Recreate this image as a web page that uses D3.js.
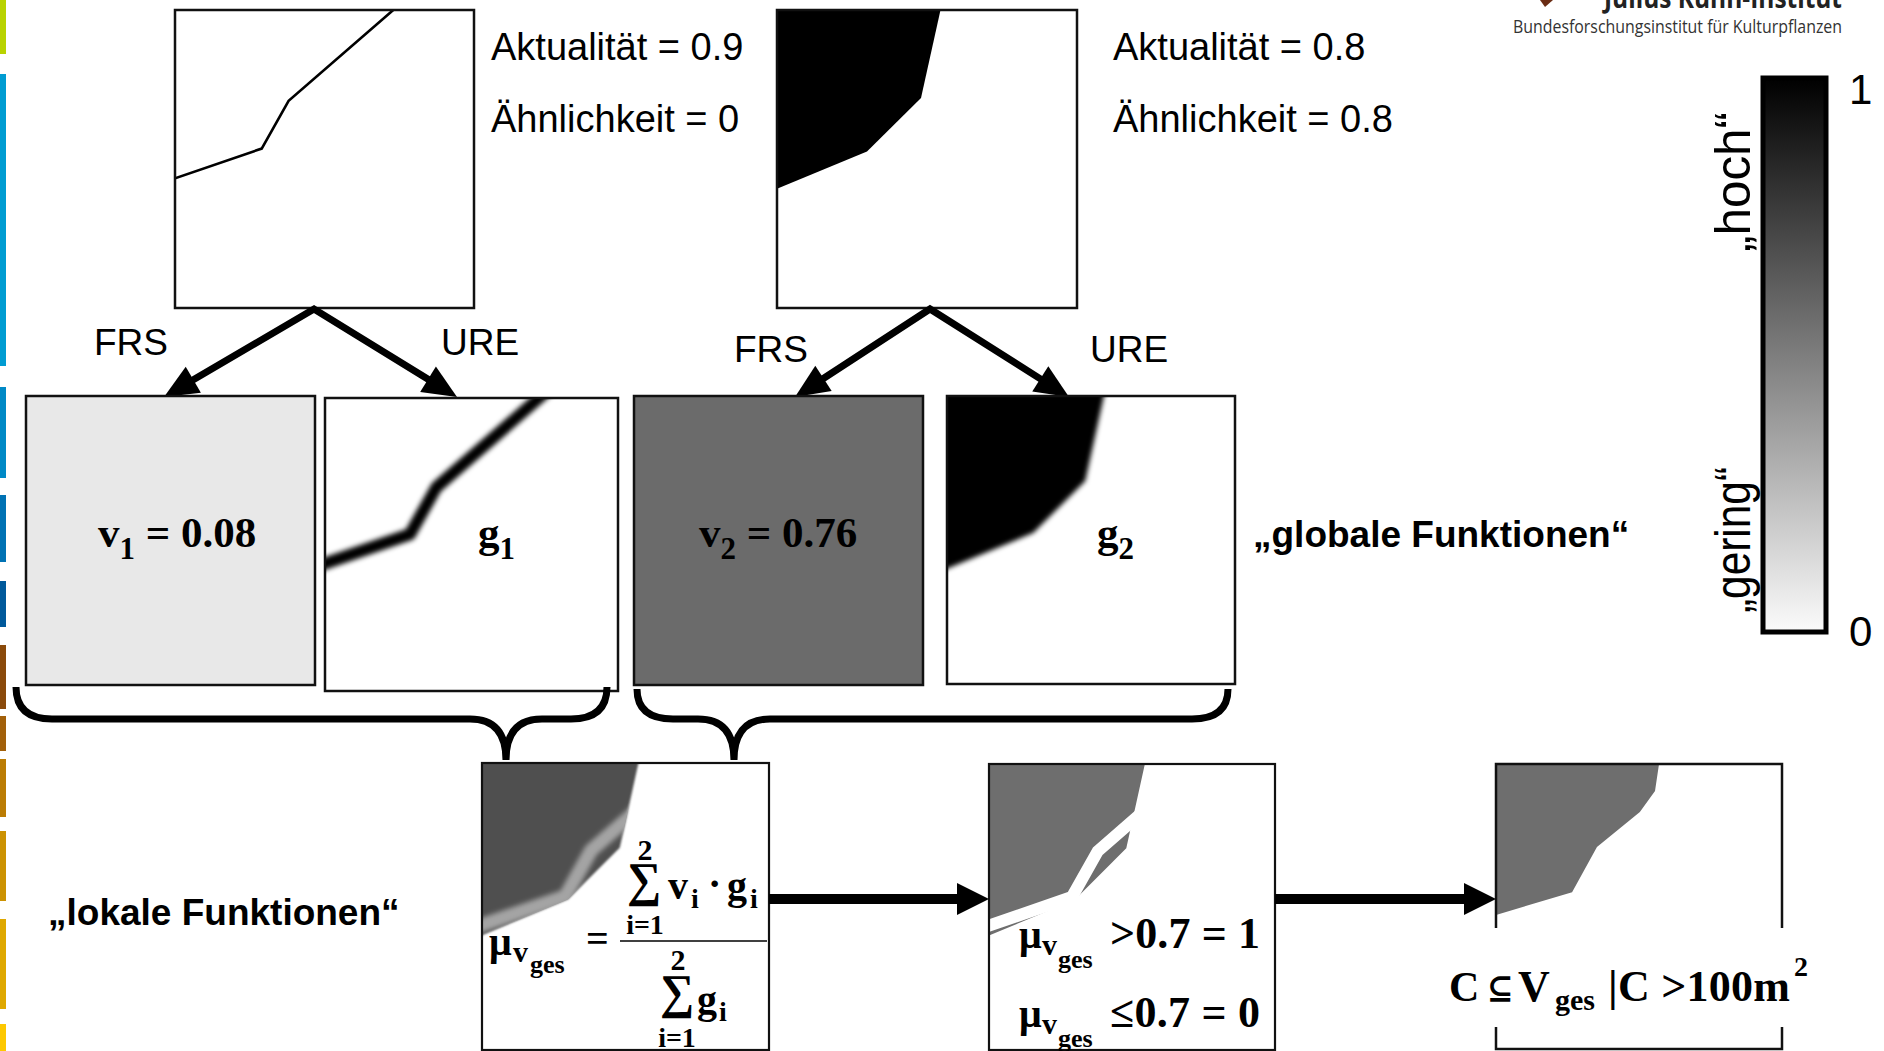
<!DOCTYPE html>
<html>
<head>
<meta charset="utf-8">
<script src="https://cdn.jsdelivr.net/npm/d3@7"></script>
<style>
  body { margin: 0; background: #fff; }
  svg { display: block; }
  .sans { font-family: "Liberation Sans", Arial, sans-serif; }
  .serif { font-family: "Liberation Serif", "Times New Roman", "DejaVu Serif", serif; font-weight: bold; }
</style>
</head>
<body>
<svg id="chart" width="1884" height="1051"></svg>
<script>
// ---- data ----
// shape of the road line (g1), normalised to its panel (0..1), left edge -> top edge
var lineG1 = [[0.0, 0.565], [0.29, 0.465], [0.38, 0.305], [0.73, 0.0]];
// edge of the black field (g2), left edge -> top edge
var edgeG2 = [[0.0, 0.6], [0.3, 0.475], [0.48, 0.295], [0.545, 0.0]];
// edge of the remaining area after the size filter
var edgeFinal = [[0.0, 0.528], [0.266, 0.448], [0.353, 0.29], [0.503, 0.168], [0.556, 0.094], [0.57, 0.0]];

var actuality = [0.9, 0.8];
var similarity = [0, 0.8];
var weights = [0.08, 0.76];
var methods = ["FRS", "URE"];
var scaleTicks = [0, 1];
var scaleLabels = ["\u201egering\u201c", "\u201ehoch\u201c"];

// left decoration stripe
var stripeBreaks = [[0, 54], [74, 366], [387, 478], [495, 562], [581, 627], [645, 709], [716, 751], [759, 817], [831, 901], [919, 1009], [1024, 1051]];
var stripeColors = ["#b9d300", "#009cd2", "#0089c6", "#0072b4", "#00599b", "#8a4a0b", "#a2600a", "#bb7c04", "#cc9202", "#dfa800", "#fdc800"];

var svg = d3.select("#chart");
var defs = svg.append("defs");

defs.append("filter").attr("id", "blur")
    .attr("x", "-20%").attr("y", "-20%").attr("width", "140%").attr("height", "140%")
  .append("feGaussianBlur").attr("stdDeviation", 2.6);
defs.append("filter").attr("id", "soft")
    .attr("x", "-20%").attr("y", "-20%").attr("width", "140%").attr("height", "140%")
  .append("feGaussianBlur").attr("stdDeviation", 0.8);

var grad = defs.append("linearGradient").attr("id", "greys")
    .attr("x1", 0).attr("y1", 1).attr("x2", 0).attr("y2", 0);
grad.append("stop").attr("offset", "0%").attr("stop-color", "#fbfbfb");
grad.append("stop").attr("offset", "100%").attr("stop-color", "#000");

// stripe
svg.append("g").selectAll("rect")
  .data(stripeBreaks)
  .enter().append("rect")
    .attr("x", 0).attr("width", 6)
    .attr("y", function(d) { return d[0]; })
    .attr("height", function(d) { return d[1] - d[0]; })
    .attr("fill", function(d, i) { return stripeColors[i]; });

// panel = a box with its own scales
var clipId = 0;
function panel(x0, y0, w, h) {
    var p = {
        x: d3.scaleLinear().domain([0, 1]).range([x0, x0 + w]),
        y: d3.scaleLinear().domain([0, 1]).range([y0, y0 + h]),
        x0: x0, y0: y0, w: w, h: h
    };
    p.id = "clip" + (clipId++);
    defs.append("clipPath").attr("id", p.id)
      .append("rect").attr("x", x0).attr("y", y0).attr("width", w).attr("height", h);
    p.g = svg.append("g");
    p.inner = p.g.append("g").attr("clip-path", "url(#" + p.id + ")");
    return p;
}

function frame(p, fill, sw) {
    p.inner.insert("rect", ":first-child")
        .attr("x", p.x0).attr("y", p.y0).attr("width", p.w).attr("height", p.h)
        .attr("fill", fill || "#fff");
    p.g.append("rect")
        .attr("x", p.x0).attr("y", p.y0).attr("width", p.w).attr("height", p.h)
        .attr("fill", "none").attr("stroke", "#111").attr("stroke-width", sw || 2.5);
}

// extend a polyline a bit beyond both ends so blur does not fade at the frame
function extend(pts) {
    var a = pts[0], b = pts[1], c = pts[pts.length - 2], d = pts[pts.length - 1];
    var s = 0.08, l1 = Math.hypot(b[0] - a[0], b[1] - a[1]), l2 = Math.hypot(d[0] - c[0], d[1] - c[1]);
    return [[a[0] - (b[0] - a[0]) * s / l1, a[1] - (b[1] - a[1]) * s / l1]]
        .concat(pts)
        .concat([[d[0] + (d[0] - c[0]) * s / l2, d[1] + (d[1] - c[1]) * s / l2]]);
}
function field(edge) {
    return extend(edge).concat([[-0.2, -0.2]]);
}
function linePath(p) {
    return d3.line().x(function(d) { return p.x(d[0]); }).y(function(d) { return p.y(d[1]); });
}

// ---- top row: input data sets ----
var pA = panel(175, 10, 299, 298);
frame(pA);
pA.inner.append("path").attr("d", linePath(pA)(extend(lineG1)))
    .attr("fill", "none").attr("stroke", "#000").attr("stroke-width", 2.6);

var pB = panel(777, 10, 300, 298);
frame(pB);
pB.inner.append("path").attr("d", linePath(pB)(field(edgeG2)) + "Z")
    .attr("fill", "#000");

var infoX = [491, 1113];
actuality.forEach(function(a, i) {
    svg.append("text").attr("class", "sans").attr("x", infoX[i]).attr("y", 60)
        .attr("font-size", 38).text("Aktualit\u00e4t = " + a);
    svg.append("text").attr("class", "sans").attr("x", infoX[i]).attr("y", 132)
        .attr("font-size", 38).text("\u00c4hnlichkeit = " + similarity[i]);
});

// ---- arrows ----
function head(x1, y1, x2, y2, hl, hw) {
    var dx = x2 - x1, dy = y2 - y1, L = Math.hypot(dx, dy);
    var ux = dx / L, uy = dy / L;
    var bx = x2 - ux * hl, by = y2 - uy * hl;
    svg.append("path")
        .attr("d", "M" + x2 + "," + y2 + "L" + (bx - uy * hw / 2) + "," + (by + ux * hw / 2) +
                   "L" + (bx + uy * hw / 2) + "," + (by - ux * hw / 2) + "Z")
        .attr("fill", "#000");
    return [bx + ux * 2, by + uy * 2];
}
function arrow(x1, y1, x2, y2, sw, hl, hw) {
    var b = head(x1, y1, x2, y2, hl, hw);
    svg.append("line").attr("x1", x1).attr("y1", y1).attr("x2", b[0]).attr("y2", b[1])
        .attr("stroke", "#000").attr("stroke-width", sw);
}
function fork(ax, ay, lx, rx, ty) {
    var l = head(ax, ay, lx, ty, 34, 30), r = head(ax, ay, rx, ty, 34, 30);
    svg.append("path").attr("d", "M" + l[0] + "," + l[1] + "L" + ax + "," + ay + "L" + r[0] + "," + r[1])
        .attr("fill", "none").attr("stroke", "#000").attr("stroke-width", 7)
        .attr("stroke-linejoin", "miter").attr("stroke-miterlimit", 10);
}
fork(314, 309, 164, 457, 397);
fork(930, 309, 795, 1069, 397);

var methodX = [[94, 441], [734, 1090]];
var methodY = [355, 362];
methodX.forEach(function(xs, k) {
    methods.forEach(function(m, i) {
        svg.append("text").attr("class", "sans").attr("x", xs[i]).attr("y", methodY[k])
            .attr("font-size", 37).text(m);
    });
});

// ---- middle row: global functions ----
var pV1 = panel(26, 396, 289, 289);
frame(pV1, "#e8e8e8");
var pG1 = panel(325, 398, 293, 293);
frame(pG1);
pG1.inner.append("path").attr("d", linePath(pG1)(extend(lineG1)))
    .attr("fill", "none").attr("stroke", "#000").attr("stroke-width", 12)
    .attr("stroke-linejoin", "round").attr("filter", "url(#blur)");

var pV2 = panel(634, 396, 289, 289);
frame(pV2, "#6b6b6b");
var pG2 = panel(947, 396, 288, 288);
frame(pG2);
pG2.inner.append("path").attr("d", linePath(pG2)(field(edgeG2)) + "Z")
    .attr("fill", "#000").attr("filter", "url(#blur)");

function sub(x, y, main, idx, size) {
    var t = svg.append("text").attr("class", "serif").attr("x", x).attr("y", y).attr("font-size", size);
    t.append("tspan").text(main);
    t.append("tspan").attr("dy", 12).attr("font-size", size * 0.72).text(idx);
    return t;
}
var vx = [98, 699];
weights.forEach(function(v, i) {
    var t = sub(vx[i], 547, "v", i + 1, 43);
    t.append("tspan").attr("dy", -12).text(" = " + v.toFixed(2));
});
sub(478, 547, "g", 1, 43);
sub(1097, 547, "g", 2, 43);

svg.append("text").attr("class", "sans").attr("x", 1253).attr("y", 547)
    .attr("font-size", 37).attr("font-weight", "bold").text("\u201eglobale Funktionen\u201c");
svg.append("text").attr("class", "sans").attr("x", 48).attr("y", 925)
    .attr("font-size", 37).attr("font-weight", "bold").text("\u201elokale Funktionen\u201c");

// ---- braces ----
function brace(xl, xc, xr, yTop, yMid, yTip, r) {
    var d = "M" + xl + "," + yTop +
        "Q" + xl + "," + yMid + " " + (xl + r) + "," + yMid +
        "L" + (xc - r) + "," + yMid +
        "Q" + xc + "," + yMid + " " + xc + "," + yTip +
        "Q" + xc + "," + yMid + " " + (xc + r) + "," + yMid +
        "L" + (xr - r) + "," + yMid +
        "Q" + xr + "," + yMid + " " + xr + "," + yTop;
    svg.append("path").attr("d", d).attr("fill", "none")
        .attr("stroke", "#000").attr("stroke-width", 7).attr("stroke-linecap", "butt");
}
brace(16, 506, 607, 687, 719, 760, 36);
brace(637, 734, 1228, 689, 719, 760, 36);

// ---- bottom row: local functions ----
var pM = panel(482, 763, 287, 287);
frame(pM, "#fff", 2.2);
defs.append("clipPath").attr("id", "fieldM")
  .append("path").attr("d", linePath(pM)(field(edgeG2)) + "Z");
pM.inner.append("path").attr("d", linePath(pM)(field(edgeG2)) + "Z")
    .attr("fill", "#4f4f4f").attr("filter", "url(#soft)");
pM.inner.append("g").attr("clip-path", "url(#fieldM)")
  .append("path").attr("d", linePath(pM)(extend(lineG1)))
    .attr("fill", "none").attr("stroke", "#a4a4a4").attr("stroke-width", 14)
    .attr("filter", "url(#blur)");

var pT = panel(989, 764, 286, 286);
frame(pT, "#fff", 2.2);
pT.inner.append("path").attr("d", linePath(pT)(field(edgeG2)) + "Z")
    .attr("fill", "#6e6e6e");
pT.inner.append("path").attr("d", linePath(pT)(extend(lineG1)))
    .attr("fill", "none").attr("stroke", "#fff").attr("stroke-width", 12);

// final panel: frame broken around the formula
var pF = panel(1496, 764, 286, 286);
pF.inner.append("path").attr("d", linePath(pF)(field(edgeFinal)) + "Z")
    .attr("fill", "#6e6e6e");
pF.g.append("path")
    .attr("d", "M1496,928V764H1782V928M1496,1027V1049H1782V1027")
    .attr("fill", "none").attr("stroke", "#111").attr("stroke-width", 2.5);

arrow(769, 899, 989, 899, 10, 32, 32);
arrow(1275, 899, 1496, 899, 10, 32, 32);

// formula pieces
function t(x, y, s, size, anchor) {
    return svg.append("text").attr("class", "serif").attr("x", x).attr("y", y)
        .attr("font-size", size).attr("text-anchor", anchor || "start").text(s);
}
// weighted mean
t(489, 955, "\u03bc", 40);
t(513, 962, "v", 30);
t(530, 973, "ges", 26);
t(586, 952, "=", 40);
svg.append("line").attr("x1", 620).attr("x2", 767).attr("y1", 941).attr("y2", 941)
    .attr("stroke", "#000").attr("stroke-width", 1.6);
t(645, 860, "2", 30, "middle");
t(644, 896, "\u2211", 48, "middle");
t(645, 934, "i=1", 28, "middle");
t(668, 899, "v", 40);
t(691, 908, "i", 28);
t(708, 897, "\u00b7", 40);
t(727, 899, "g", 40);
t(750, 908, "i", 28);
t(678, 970, "2", 30, "middle");
t(677, 1008, "\u2211", 48, "middle");
t(697, 1013, "g", 40);
t(719, 1021, "i", 28);
t(677, 1047, "i=1", 28, "middle");

// threshold
[[948, ">0.7 = 1"], [1027, "\u22640.7 = 0"]].forEach(function(r) {
    t(1019, r[0], "\u03bc", 40);
    t(1042, r[0] + 7, "v", 30);
    t(1058, r[0] + 20, "ges", 26);
    t(1110, r[0], r[1], 44).attr("textLength", 150).attr("lengthAdjust", "spacing");
});

// size filter
t(1449, 1001, "C", 42);
t(1487, 999, "\u2286", 32);
t(1518, 1001, "V", 44);
t(1555, 1010, "ges", 30);
t(1608, 1001, "|C >100m", 44).attr("textLength", 182).attr("lengthAdjust", "spacing");
t(1794, 976, "2", 28);

// ---- grey scale legend ----
var cbY = d3.scaleLinear().domain([0, 1]).range([632, 78]);
svg.append("rect").attr("x", 1763).attr("y", cbY(1)).attr("width", 63).attr("height", cbY(0) - cbY(1))
    .attr("fill", "url(#greys)").attr("stroke", "#000").attr("stroke-width", 5);
scaleTicks.forEach(function(v) {
    svg.append("text").attr("class", "sans").attr("x", 1849).attr("y", cbY(v) + (v ? 26 : 14))
        .attr("font-size", 42).text(v);
});
var labelPos = [[1750, 613, 146], [1750, 252, 140]];
scaleLabels.forEach(function(s, i) {
    var p = labelPos[i];
    svg.append("text").attr("class", "sans")
        .attr("transform", "translate(" + p[0] + "," + p[1] + ") rotate(-90)")
        .attr("font-size", 50).attr("textLength", p[2]).attr("lengthAdjust", "spacingAndGlyphs")
        .text(s);
});

// ---- logo text (cut at the top edge) ----
svg.append("path").attr("d", "M1540,0L1553,0L1545,7Z").attr("fill", "#6a2c14");
svg.append("text").attr("x", 1604).attr("y", 8)
    .attr("font-family", "'Open Sans', 'Liberation Sans', sans-serif").attr("font-weight", "bold")
    .attr("font-size", 28).attr("fill", "#222").attr("textLength", 238).attr("lengthAdjust", "spacingAndGlyphs")
    .text("Julius K\u00fchn-Institut");
svg.append("text").attr("x", 1513).attr("y", 33)
    .attr("font-family", "'Open Sans', 'Liberation Sans', sans-serif")
    .attr("font-size", 18).attr("fill", "#333").attr("textLength", 329).attr("lengthAdjust", "spacingAndGlyphs")
    .text("Bundesforschungsinstitut f\u00fcr Kulturpflanzen");
</script>
</body>
</html>
